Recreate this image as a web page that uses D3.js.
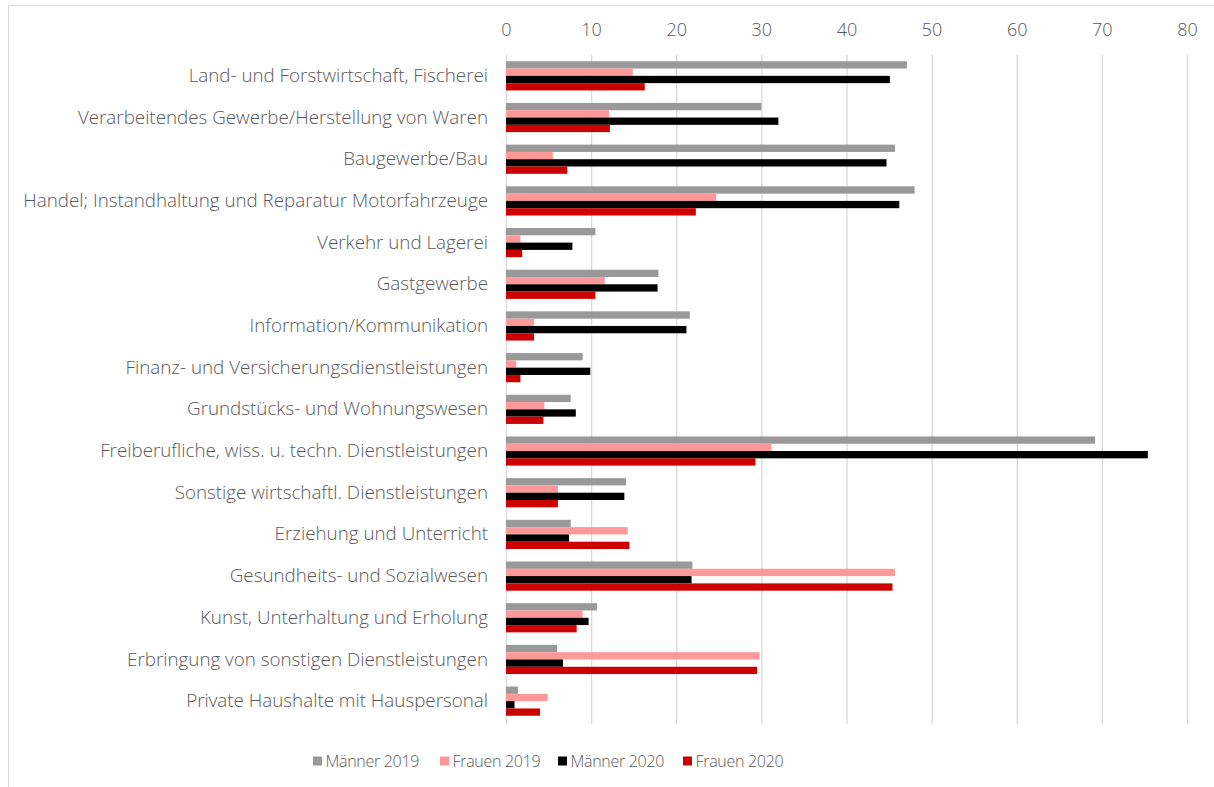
<!DOCTYPE html>
<html>
<head>
<meta charset="utf-8">
<script src="https://cdn.jsdelivr.net/npm/d3@7"></script>
<style>
  html, body { margin: 0; padding: 0; background: #fff; }
  svg { display: block; font-family: "Open Sans", sans-serif; }
</style>
</head>
<body>
<svg id="chart" width="1214" height="787"></svg>
<script>
// Branchen, Männer/Frauen 2019 und 2020 — horizontal grouped bars.
const categories = [
  "Land- und Forstwirtschaft, Fischerei",
  "Verarbeitendes Gewerbe/Herstellung von Waren",
  "Baugewerbe/Bau",
  "Handel; Instandhaltung und Reparatur Motorfahrzeuge",
  "Verkehr und Lagerei",
  "Gastgewerbe",
  "Information/Kommunikation",
  "Finanz- und Versicherungsdienstleistungen",
  "Grundstücks- und Wohnungswesen",
  "Freiberufliche, wiss. u. techn. Dienstleistungen",
  "Sonstige wirtschaftl. Dienstleistungen",
  "Erziehung und Unterricht",
  "Gesundheits- und Sozialwesen",
  "Kunst, Unterhaltung und Erholung",
  "Erbringung von sonstigen Dienstleistungen",
  "Private Haushalte mit Hauspersonal"
];
const maenner2019 = [47.1, 30.0, 45.7, 48.0, 10.5, 17.9, 21.6, 9.0, 7.6, 69.2, 14.1, 7.6, 21.9, 10.7, 6.0, 1.4];
const frauen2019  = [14.9, 12.1, 5.5, 24.7, 1.7, 11.6, 3.3, 1.2, 4.5, 31.2, 6.1, 14.3, 45.7, 9.0, 29.8, 4.9];
const maenner2020 = [45.1, 32.0, 44.7, 46.2, 7.8, 17.8, 21.2, 9.9, 8.2, 75.4, 13.9, 7.4, 21.8, 9.7, 6.7, 1.0];
const frauen2020  = [16.3, 12.2, 7.2, 22.3, 1.9, 10.5, 3.3, 1.7, 4.4, 29.3, 6.1, 14.5, 45.4, 8.3, 29.5, 4.0];
const seriesNames = ["Männer 2019", "Frauen 2019", "Männer 2020", "Frauen 2020"];
const seriesColors = ["#999999", "#ff9999", "#000000", "#cc0000"];
const xTicks = [0, 10, 20, 30, 40, 50, 60, 70, 80];

const series = [maenner2019, frauen2019, maenner2020, frauen2020];
const svg = d3.select("#chart");
const textColor = "#595959";

// chart frame (only top and left edges fall inside the picture)
svg.append("rect").attr("x", 8.5).attr("y", 5.5).attr("width", 1300).attr("height", 782)
  .attr("fill", "none").attr("stroke", "#d9d9d9");

const x = d3.scaleLinear().domain([0, 80]).range([506, 1187]);
const y = d3.scaleBand().domain(categories).range([55, 722]).paddingInner(0.3).paddingOuter(0.15);
const yi = d3.scaleBand().domain(d3.range(4)).range([0, y.bandwidth()]);

// gridlines
svg.append("g").selectAll("line").data(xTicks).join("line")
  .attr("x1", (d) => x(d) + 0.5).attr("x2", (d) => x(d) + 0.5)
  .attr("y1", 55).attr("y2", 724)
  .attr("stroke", "#d9d9d9").attr("stroke-width", 1.3);

// top axis labels
const ax = svg.append("g").attr("transform", "translate(0,30)")
  .call(d3.axisTop(x).tickValues(xTicks).tickSize(0).tickPadding(0));
ax.select(".domain").remove();
ax.selectAll("text").attr("fill", textColor).style("font-size", "18px")
  .style("font-family", "'Open Sans', sans-serif").style("font-weight", 300).attr("dy", "0.35em");

// bars
series.forEach((vals, si) => {
  svg.append("g").selectAll("rect").data(vals).join("rect")
    .attr("x", x(0))
    .attr("y", (d, i) => y(categories[i]) + yi(si))
    .attr("width", (d) => x(d) - x(0))
    .attr("height", yi.bandwidth())
    .attr("fill", seriesColors[si]);
});

// category labels
const ay = svg.append("g").attr("transform", `translate(${x(0)},0)`)
  .call(d3.axisLeft(y).tickSize(0).tickPadding(18));
ay.select(".domain").remove();
ay.selectAll("text").attr("fill", textColor).style("font-size", "18.8px")
  .style("font-family", "'Open Sans', sans-serif").style("font-weight", 300);

// legend
const legX = [313, 440, 558, 683];
const leg = svg.append("g").attr("transform", "translate(0,761)");
seriesNames.forEach((name, i) => {
  const g = leg.append("g").attr("transform", `translate(${legX[i]},0)`);
  g.append("rect").attr("x", 0).attr("y", -4.5).attr("width", 9).attr("height", 9).attr("fill", seriesColors[i]);
  g.append("text").attr("x", 12.5).attr("y", 0).attr("dy", "0.35em")
    .attr("fill", textColor).style("font-size", "16px").style("letter-spacing", "-0.3px")
    .style("font-weight", 300).text(name);
});
</script>
</body>
</html>
